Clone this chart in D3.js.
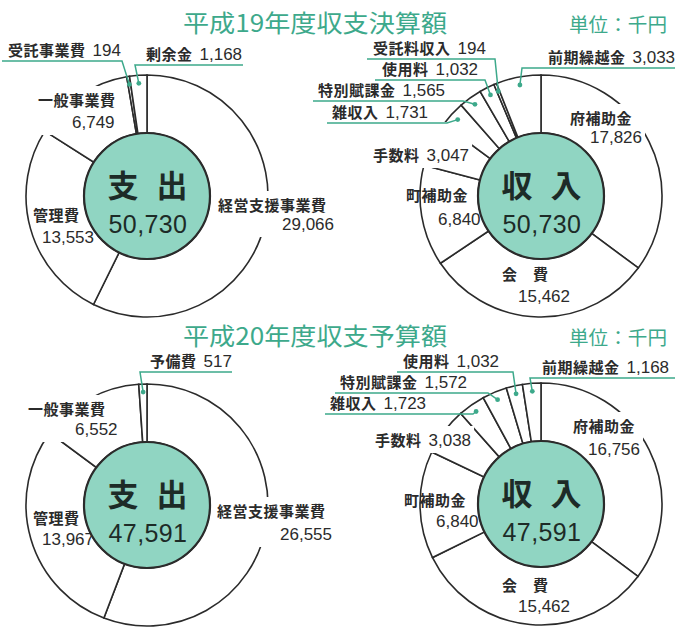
<!DOCTYPE html>
<html>
<head>
<meta charset="utf-8">
<script src="https://cdn.jsdelivr.net/npm/d3@7"></script>
<style>
body { margin: 0; background: #fff; }
</style>
</head>
<body>
<div id="chart"></div>
<script>
// Chart data (unit: 千円)
var titles = ["平成19年度収支決算額", "平成20年度収支予算額"];
var unitText = "単位：千円";

var exp19Names = ["経営支援事業費", "管理費", "一般事業費", "受託事業費", "剰余金"];
var exp19Values = [29066, 13553, 6749, 194, 1168];

var inc19Names = ["府補助金", "会費", "町補助金", "手数料", "雑収入", "特別賦課金", "使用料", "受託料収入", "前期繰越金"];
var inc19Values = [17826, 15462, 6840, 3047, 1731, 1565, 1032, 194, 3033];

var exp20Names = ["経営支援事業費", "管理費", "一般事業費", "予備費"];
var exp20Values = [26555, 13967, 6552, 517];

var inc20Names = ["府補助金", "会費", "町補助金", "手数料", "雑収入", "特別賦課金", "使用料", "前期繰越金"];
var inc20Values = [16756, 15462, 6840, 3038, 1723, 1572, 1032, 1168];

// Look
var W = 675, H = 631;
var outerR = 121, innerR = 63;
var green = "#3da98b";
var centerFill = "#90d5c2";
var ink = "#2b2b2b";
var cjkFont = "'Noto Sans CJK JP', 'Noto Sans', sans-serif";
var numFont = "'Liberation Sans Narrow', 'Liberation Sans', Arial, sans-serif";

// Label placement per pie
//  block: name and value on two lines, inline: one line, leader: one line + underline and pointer
var charts = [
    { center: "支出", names: exp19Names, values: exp19Values, cx: 147, cy: 196, labels: {
        "経営支援事業費": { kind: "block", x: 218, y: 211, vx: 282, vy: 230, box: true },
        "管理費":         { kind: "block", x: 33,  y: 221, vx: 42,  vy: 243 },
        "一般事業費":     { kind: "block", x: 38,  y: 106, vx: 72,  vy: 128, box: true },
        "受託事業費":     { kind: "leader", x: 8,   y: 56, u1: 2,   u2: 122 },
        "剰余金":         { kind: "leader", x: 146, y: 60, u1: 135, u2: 243 }
    }},
    { center: "収入", names: inc19Names, values: inc19Values, cx: 541, cy: 196, labels: {
        "府補助金":   { kind: "block", x: 570, y: 124, vx: 590, vy: 143, box: true },
        "会費":       { kind: "block", x: 502, y: 280, vx: 518, vy: 302 },
        "町補助金":   { kind: "block", x: 406, y: 201, vx: 438, vy: 225 },
        "手数料":     { kind: "inline", x: 373, y: 161, box: true, padTop: 22 },
        "雑収入":     { kind: "leader", x: 332, y: 118, u1: 327, u2: 447 },
        "特別賦課金": { kind: "leader", x: 318, y: 96,  u1: 313, u2: 463 },
        "使用料":     { kind: "leader", x: 382, y: 75,  u1: 375, u2: 485 },
        "受託料収入": { kind: "leader", x: 373, y: 54,  u1: 367, u2: 495 },
        "前期繰越金": { kind: "leader", x: 548, y: 63,  u1: 522, u2: 675 }
    }},
    { center: "支出", names: exp20Names, values: exp20Values, cx: 147, cy: 505, labels: {
        "経営支援事業費": { kind: "block", x: 217, y: 517, vx: 280, vy: 540, box: true },
        "管理費":         { kind: "block", x: 33,  y: 524, vx: 42,  vy: 545 },
        "一般事業費":     { kind: "block", x: 28,  y: 415, vx: 75,  vy: 435, box: true },
        "予備費":         { kind: "leader", x: 150, y: 367, u1: 140, u2: 232 }
    }},
    { center: "収入", names: inc20Names, values: inc20Values, cx: 541, cy: 504, labels: {
        "府補助金":   { kind: "block", x: 573, y: 432, vx: 588, vy: 455, box: true },
        "会費":       { kind: "block", x: 502, y: 591, vx: 518, vy: 612 },
        "町補助金":   { kind: "block", x: 404, y: 506, vx: 436, vy: 527 },
        "手数料":     { kind: "inline", x: 375, y: 446, box: true },
        "雑収入":     { kind: "leader", x: 330, y: 409, u1: 325, u2: 473 },
        "特別賦課金": { kind: "leader", x: 340, y: 388, u1: 335, u2: 488 },
        "使用料":     { kind: "leader", x: 403, y: 367, u1: 397, u2: 513 },
        "前期繰越金": { kind: "leader", x: 542, y: 373, u1: 530, u2: 675 }
    }}
];

var fmt = d3.format(",");

var svg = d3.select("#chart").append("svg")
    .attr("width", W)
    .attr("height", H)
    .style("font-family", cjkFont);

// Titles and units
[32, 345].forEach(function(y, i)
{
    svg.append("text")
       .attr("x", 183).attr("y", y)
       .attr("textLength", 264).attr("lengthAdjust", "spacingAndGlyphs")
       .style("font-size", "24px")
       .style("fill", green)
       .text(titles[i]);

    svg.append("text")
       .attr("x", 569).attr("y", y)
       .attr("textLength", 98).attr("lengthAdjust", "spacingAndGlyphs")
       .style("font-size", "19px")
       .style("fill", green)
       .text(unitText);
});

var pie = d3.pie().sort(null).value(function(d) { return d.value; });
var arc = d3.arc().innerRadius(innerR).outerRadius(outerR);

function displayName(name)
{
    // two-character names are spread out ("会　費")
    return name.length === 2 ? name[0] + "\u3000" + name[1] : name;
}

function DrawPie(chart)
{
    var rows = chart.names.map(function(n, i) { return { name: n, value: chart.values[i] }; });
    var slices = pie(rows);
    var g = svg.append("g").attr("transform", "translate(" + chart.cx + "," + chart.cy + ")");

    g.selectAll("path.slice")
     .data(slices)
     .enter().append("path")
     .attr("class", "slice")
     .attr("d", arc)
     .style("fill", "#fff")
     .style("stroke", ink)
     .style("stroke-width", 1.6);

    var labelLayer = svg.append("g");
    var leaderLayer = svg.append("g");

    slices.forEach(function(s)
    {
        var pos = chart.labels[s.data.name];
        var lg = labelLayer.append("g");
        var valueText = fmt(s.data.value);

        if (pos.kind === "block")
        {
            lg.append("text")
              .attr("x", pos.x).attr("y", pos.y)
              .style("font-size", "15px").style("font-weight", 700)
              .style("letter-spacing", "0.5px")
              .style("fill", ink)
              .text(displayName(s.data.name));
            lg.append("text")
              .attr("x", pos.vx).attr("y", pos.vy)
              .style("font-family", numFont).style("font-size", "17px")
              .style("fill", ink)
              .text(valueText);
        }
        else
        {
            var t = lg.append("text")
                      .attr("x", pos.x).attr("y", pos.y)
                      .style("fill", ink);
            t.append("tspan")
             .style("font-size", "15px").style("font-weight", 700)
             .style("letter-spacing", "0.5px")
             .text(s.data.name);
            t.append("tspan")
             .attr("dx", 7)
             .style("font-family", numFont).style("font-size", "17px")
             .text(valueText);
        }

        if (pos.box)
        {
            var b = lg.node().getBBox();
            var padTop = pos.padTop || 3;
            lg.insert("rect", ":first-child")
              .attr("x", b.x - 3).attr("y", b.y - padTop)
              .attr("width", b.width + 6).attr("height", b.height + padTop + 3)
              .style("fill", "#fff");
        }

        if (pos.kind === "leader")
        {
            var mid = (s.startAngle + s.endAngle) / 2;
            var p = d3.pointRadial(mid, outerR - 8);
            var dot = [chart.cx + p[0], chart.cy + p[1]];
            var uy = pos.y + 5;
            var nearLeft = Math.abs(dot[0] - pos.u1) < Math.abs(dot[0] - pos.u2);
            var path = nearLeft
                ? [[pos.u2, uy], [pos.u1, uy], dot]
                : [[pos.u1, uy], [pos.u2, uy], dot];

            leaderLayer.append("path")
                       .attr("d", d3.line()(path))
                       .style("fill", "none")
                       .style("stroke", green)
                       .style("stroke-width", 1.5);
            leaderLayer.append("circle")
                       .attr("cx", dot[0]).attr("cy", dot[1])
                       .attr("r", 2.4)
                       .style("fill", green);
        }
    });

    // Centre disc with total
    var c = svg.append("g").attr("transform", "translate(" + chart.cx + "," + chart.cy + ")");
    c.append("circle")
     .attr("r", innerR)
     .style("fill", centerFill)
     .style("stroke", ink)
     .style("stroke-width", 2.2);

    chart.center.split("").forEach(function(ch, i)
    {
        c.append("text")
         .attr("x", i === 0 ? -24 : 25).attr("y", 1)
         .attr("text-anchor", "middle")
         .style("font-size", "31px").style("font-weight", 700)
         .style("fill", "#1d2b27")
         .text(ch);
    });

    c.append("text")
     .attr("x", 1).attr("y", 37)
     .attr("text-anchor", "middle")
     .style("font-family", numFont).style("font-size", "25px")
     .style("letter-spacing", "0.4px")
     .style("fill", "#1d2b27")
     .text(fmt(d3.sum(chart.values)));
}

charts.forEach(DrawPie);
</script>
</body>
</html>
